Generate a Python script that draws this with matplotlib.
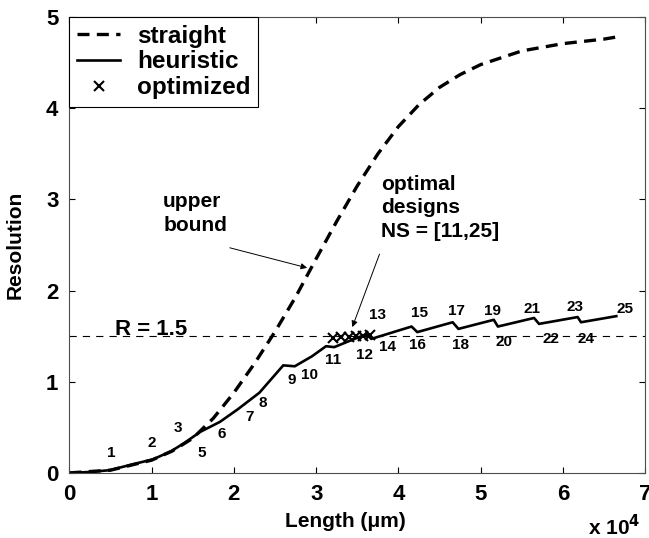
import numpy as np
import matplotlib.pyplot as plt

plt.rcParams['font.family'] = ['Liberation Sans', 'DejaVu Sans']
plt.rcParams['font.weight'] = 'bold'
plt.rcParams['axes.labelweight'] = 'bold'

# lengths in units of 1e4 um
straight_x = [0, 0.5, 1.0, 1.25, 1.5, 1.75, 2.0, 2.25, 2.5, 2.75, 3.0, 3.25, 3.5,
              3.75, 4.0, 4.25, 4.5, 4.75, 5.0, 5.5, 6.0, 6.5, 6.7]
straight_y = [0, 0.03, 0.14, 0.24, 0.38, 0.6, 0.88, 1.2, 1.55, 1.93, 2.35, 2.76, 3.15,
              3.50, 3.80, 4.04, 4.23, 4.37, 4.48, 4.63, 4.71, 4.76, 4.79]

heur_x = [0, 0.25, 0.49, 0.75, 1.02, 1.24, 1.40, 1.59, 1.83, 2.05, 2.31, 2.6, 2.74,
          2.95, 3.12, 3.22, 3.41, 3.55, 3.62, 3.67, 4.16, 4.23, 4.66, 4.73, 5.16,
          5.21, 5.65, 5.71, 6.18, 6.22, 6.65]
heur_y = [0, 0.01, 0.03, 0.09, 0.15, 0.24, 0.33, 0.45, 0.56, 0.7, 0.88, 1.18, 1.17,
          1.28, 1.39, 1.38, 1.45, 1.50, 1.52, 1.47, 1.606, 1.545, 1.653, 1.58, 1.68,
          1.606, 1.70, 1.635, 1.71, 1.653, 1.72]

opt_x = [3.20, 3.30, 3.40, 3.49, 3.57, 3.65]
opt_y = [1.48, 1.49, 1.49, 1.50, 1.50, 1.51]

R_target = 1.5

ns_labels = ['1', '2', '3', '5', '6', '7', '8', '9', '10', '11', '12', '13', '14',
             '15', '16', '17', '18', '19', '20', '21', '22', '23', '24', '25']
ns_x = [0.505, 1.0, 1.32, 1.61, 1.85, 2.19, 2.35, 2.70, 2.92, 3.21, 3.59, 3.75, 3.87,
        4.26, 4.23, 4.71, 4.76, 5.14, 5.29, 5.63, 5.85, 6.15, 6.28, 6.75]
ns_y = [0.22, 0.33, 0.49, 0.22, 0.43, 0.61, 0.77, 1.02, 1.07, 1.24, 1.29, 1.73, 1.38,
        1.75, 1.40, 1.78, 1.40, 1.78, 1.44, 1.80, 1.47, 1.82, 1.47, 1.80]

fig = plt.figure(figsize=(6.49, 5.38), dpi=100)
ax = fig.add_axes([0.107, 0.121, 0.887, 0.847])

ax.plot(straight_x, straight_y, 'k', ls=(0, (3.6, 2.2)), lw=2.4, label='straight')
ax.plot(heur_x, heur_y, 'k-', lw=1.9, label='heuristic')
ax.plot(opt_x, opt_y, 'kx', ms=7, mew=1.5, label='optimized')
ax.axhline(R_target, color='k', ls=(0, (6.5, 5.5)), lw=0.8)

for s, x, y in zip(ns_labels, ns_x, ns_y):
    ax.text(x, y, s, fontsize=11, ha='center', va='center')

ax.text(0.55, 1.515, 'R = 1.5', fontsize=16, va='baseline')

ax.text(1.14, 3.08, 'upper\nbound', fontsize=15, linespacing=1.3, ha='left', va='top')
ax.annotate('', xy=(2.89, 2.25), xytext=(1.95, 2.47),
            arrowprops=dict(arrowstyle='-|>', color='k', lw=0.7, shrinkA=0, shrinkB=0,
                            mutation_scale=9))
ax.text(3.79, 3.27, 'optimal\ndesigns\nNS = [11,25]', fontsize=15, linespacing=1.3,
        ha='left', va='top')
ax.annotate('', xy=(3.44, 1.60), xytext=(3.77, 2.40),
            arrowprops=dict(arrowstyle='-|>', color='k', lw=0.7, shrinkA=0, shrinkB=0,
                            mutation_scale=9))

ax.set_xlim(0, 7)
ax.set_ylim(0, 5)
ax.set_xticks(range(8))
ax.set_yticks(range(6))
ax.tick_params(direction='in', top=True, right=True, labelsize=16, length=4, pad=8)
for sp in ax.spines.values():
    sp.set_color('0.3')
ax.set_xlabel('Length (\u03bcm)', fontsize=15)
ax.set_ylabel('Resolution', fontsize=15)
ax.xaxis.set_label_coords(0.48, -0.085)
ax.yaxis.set_label_coords(-0.078, 0.5)
fig.text(0.906, 0.006, r'x 10$^{\mathbf{4}}$', fontsize=15, va='baseline')

leg = ax.legend(loc='upper left', fontsize=17.5, fancybox=False, edgecolor='k',
                framealpha=1, borderaxespad=0, borderpad=0.3, handlelength=1.8,
                handletextpad=0.7, labelspacing=0.12)
leg.get_frame().set_linewidth(0.8)

fig.savefig('out.png', dpi=100)
